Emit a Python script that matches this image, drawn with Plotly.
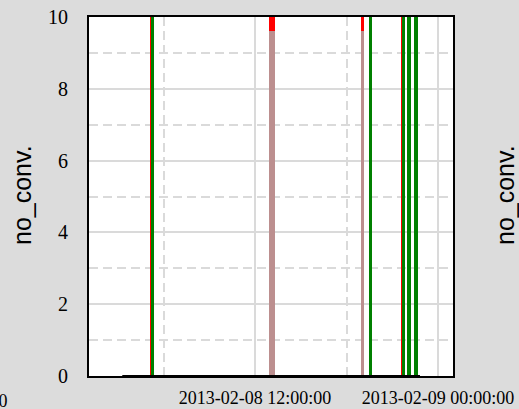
import plotly.graph_objects as go

# ---- data ----
green_times = ["2013-02-08 05:16", "2013-02-08 19:34", "2013-02-08 21:43",
               "2013-02-08 22:06", "2013-02-08 22:33"]
green_values = [20, 20, 20, 20, 20]

red_times = ["2013-02-08 05:14", "2013-02-08 13:07", "2013-02-08 19:02",
             "2013-02-08 21:42", "2013-02-08 22:34"]
red_values = [20, 20, 20, 20, 20]

brown_times = ["2013-02-08 13:07", "2013-02-08 19:03"]
brown_values = [9.6, 9.6]

base_times = ["2013-02-08 03:17", "2013-02-08 22:49"]
base_values = [0, 0]

x_range = ["2013-02-08 01:06", "2013-02-09 00:59"]
y_range = [0, 10]

MIN = 60 * 1000

fig = go.Figure()
fig.add_trace(go.Bar(x=red_times, y=red_values,
                     width=[12 * MIN, 23 * MIN, 12 * MIN, 13 * MIN, 13 * MIN],
                     marker=dict(color="#ff0000", line=dict(width=0)), showlegend=False))
fig.add_trace(go.Bar(x=brown_times, y=brown_values, width=[23 * MIN, 15 * MIN],
                     marker=dict(color="#bc8f8f", line=dict(width=0)), showlegend=False))
fig.add_trace(go.Bar(x=green_times, y=green_values, width=[13 * MIN] * len(green_times),
                     marker=dict(color="#008000", line=dict(width=0)), showlegend=False))
fig.add_trace(go.Scatter(x=base_times, y=base_values, mode="lines",
                         line=dict(color="black", width=2), showlegend=False, cliponaxis=False))

grid = "#dadada"
fig.update_layout(
    width=519, height=409,
    margin=dict(l=89, r=66, t=17, b=33),
    paper_bgcolor="#dcdcdc", plot_bgcolor="white",
    barmode="overlay", bargap=0,
    showlegend=False,
    xaxis=dict(
        type="date", range=x_range, automargin=False,
        tick0="2013-02-08 00:00:00", dtick=12 * 3600 * 1000,
        tickformat="%Y-%m-%d %H:%M:%S",
        tickfont=dict(family="Liberation Serif", size=18, color="black"),
        showgrid=True, gridcolor=grid, gridwidth=2,
        minor=dict(dtick=6 * 3600 * 1000, showgrid=True, gridcolor=grid, gridwidth=1.5, griddash="9px,5px"),
        showline=True, linecolor="black", linewidth=2, mirror=True,
        ticks="", ticklabelstandoff=4, zeroline=False,
    ),
    yaxis=dict(
        range=y_range, dtick=2, automargin=False,
        tickfont=dict(family="Liberation Serif", size=20, color="black"),
        showgrid=True, gridcolor=grid, gridwidth=2,
        minor=dict(dtick=1, showgrid=True, gridcolor=grid, gridwidth=1.5, griddash="9px,5px"),
        showline=True, linecolor="black", linewidth=2, mirror=True,
        ticks="", ticklabelstandoff=15, zeroline=False,
    ),
    annotations=[
        dict(text="no_conv.", xref="paper", yref="paper", x=(22 - 89) / 364, y=(376 - 195) / 359,
             xanchor="center", yanchor="middle", textangle=-90, showarrow=False,
             font=dict(family="Liberation Sans", size=25, color="black")),
        dict(text="no_conv.", xref="paper", yref="paper", x=(505 - 89) / 364, y=(376 - 195) / 359,
             xanchor="center", yanchor="middle", textangle=-90, showarrow=False,
             font=dict(family="Liberation Sans", size=25, color="black")),
        dict(text="2013-02-09 12:00:00", xref="paper", yref="paper", x=(10 - 89) / 364, y=-0.035,
             xanchor="right", yanchor="top", showarrow=False,
             font=dict(family="Liberation Serif", size=18, color="black")),
    ],
)

fig.write_html("out.html", config={"displayModeBar": False},
               post_script="document.body.style.margin='0';document.body.style.padding='0';")
